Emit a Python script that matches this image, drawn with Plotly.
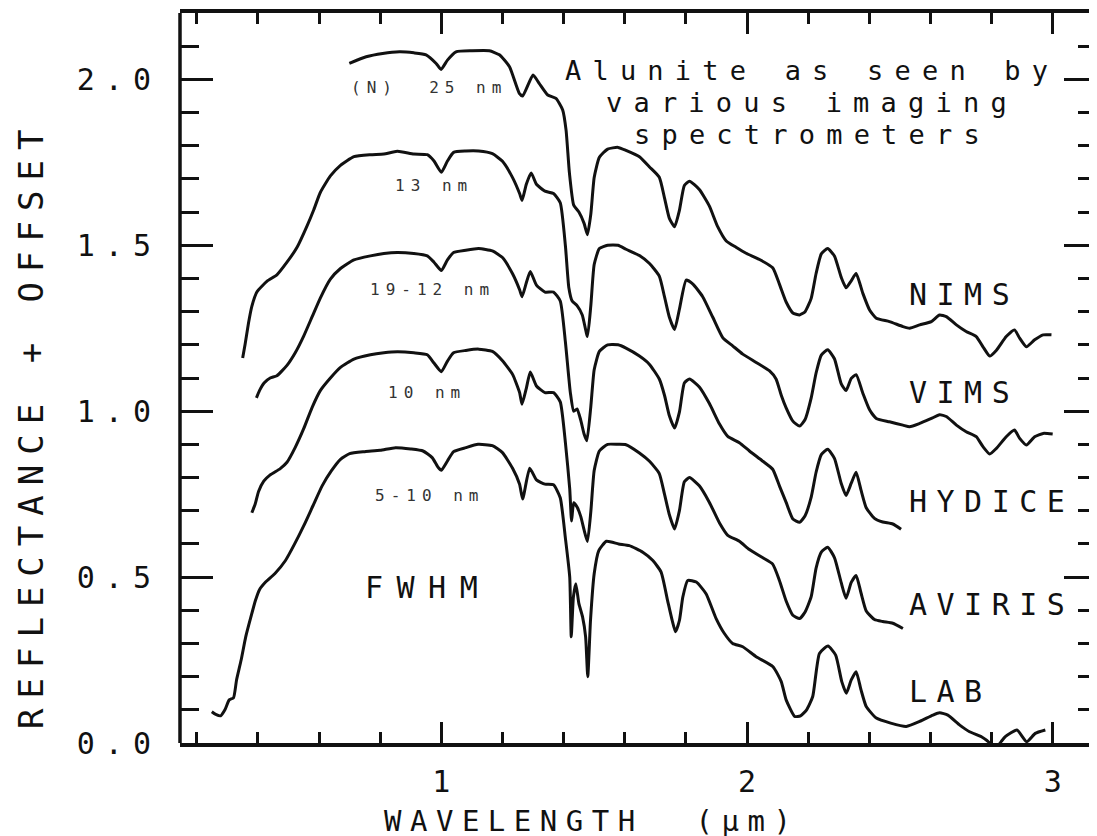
import plotly.graph_objects as go

# ---------------- data (wavelength in micrometres, reflectance + offset) -------------
NIMS_WL = [0.699, 0.754, 0.808, 0.863, 0.91, 0.95, 0.983, 0.999, 1.02, 1.048, 1.10, 1.157, 1.19,
           1.223, 1.255, 1.266, 1.30, 1.32, 1.348, 1.375, 1.397, 1.408, 1.419, 1.433, 1.45, 1.467,
           1.478, 1.489, 1.50, 1.517, 1.544, 1.578, 1.604, 1.648, 1.681, 1.713, 1.73, 1.746, 1.763,
           1.779, 1.795, 1.812, 1.844, 1.877, 1.904, 1.932, 1.964, 1.997, 2.041, 2.084, 2.106, 2.128,
           2.15, 2.172, 2.19, 2.21, 2.226, 2.243, 2.264, 2.286, 2.308, 2.324, 2.341, 2.357, 2.379,
           2.401, 2.423, 2.466, 2.51, 2.532, 2.565, 2.603, 2.63, 2.652, 2.685, 2.717, 2.75, 2.772,
           2.794, 2.816, 2.848, 2.875, 2.892, 2.914, 2.941, 2.969, 2.996]
NIMS_R = [2.048, 2.068, 2.078, 2.083, 2.08, 2.074, 2.048, 2.03, 2.058, 2.083, 2.086, 2.086, 2.074,
          2.038, 1.958, 1.95, 2.013, 1.988, 1.953, 1.943, 1.908, 1.847, 1.718, 1.621, 1.60, 1.566,
          1.532, 1.594, 1.704, 1.765, 1.79, 1.795, 1.786, 1.767, 1.736, 1.705, 1.643, 1.581, 1.556,
          1.606, 1.68, 1.693, 1.668, 1.618, 1.556, 1.513, 1.494, 1.476, 1.457, 1.432, 1.383, 1.329,
          1.296, 1.29, 1.30, 1.34, 1.415, 1.474, 1.49, 1.468, 1.404, 1.372, 1.393, 1.415, 1.355,
          1.305, 1.28, 1.27, 1.255, 1.25, 1.26, 1.27, 1.29, 1.285, 1.26, 1.24, 1.225, 1.194,
          1.166, 1.184, 1.225, 1.245, 1.22, 1.194, 1.215, 1.23, 1.23]

VIMS_WL = [0.35, 0.358, 0.369, 0.38, 0.397, 0.43, 0.462, 0.495, 0.528, 0.56, 0.583, 0.604, 0.637,
           0.67, 0.714, 0.768, 0.812, 0.856, 0.91, 0.954, 0.976, 1.0, 1.02, 1.04, 1.08, 1.122, 1.167,
           1.2, 1.233, 1.256, 1.264, 1.278, 1.294, 1.311, 1.339, 1.367, 1.389, 1.406, 1.417, 1.428,
           1.444, 1.461, 1.478, 1.489, 1.5, 1.517, 1.544, 1.578, 1.604, 1.648, 1.681, 1.713, 1.73,
           1.746, 1.763, 1.779, 1.801, 1.823, 1.855, 1.888, 1.921, 1.953, 1.986, 2.03, 2.073, 2.095,
           2.112, 2.128, 2.15, 2.172, 2.19, 2.21, 2.226, 2.243, 2.264, 2.286, 2.308, 2.324, 2.341,
           2.357, 2.379, 2.401, 2.423, 2.466, 2.51, 2.532, 2.565, 2.603, 2.63, 2.652, 2.685, 2.717,
           2.75, 2.772, 2.794, 2.816, 2.848, 2.875, 2.892, 2.914, 2.941, 2.969, 3.0]
VIMS_R = [1.16, 1.202, 1.265, 1.316, 1.36, 1.392, 1.411, 1.449, 1.494, 1.557, 1.608, 1.659, 1.709,
          1.741, 1.767, 1.773, 1.775, 1.783, 1.775, 1.773, 1.754, 1.72, 1.754, 1.78, 1.784, 1.784, 1.776,
          1.753, 1.704, 1.656, 1.635, 1.684, 1.718, 1.684, 1.663, 1.656, 1.628, 1.497, 1.373, 1.332,
          1.318, 1.29, 1.225, 1.318, 1.442, 1.49, 1.5, 1.5, 1.488, 1.469, 1.445, 1.407, 1.345,
          1.283, 1.246, 1.308, 1.395, 1.383, 1.345, 1.283, 1.221, 1.197, 1.172, 1.147, 1.122, 1.097,
          1.048, 1.01, 0.97, 0.955, 0.975, 1.04, 1.115, 1.169, 1.185, 1.158, 1.083, 1.062, 1.099,
          1.11, 1.054, 1.004, 0.978, 0.968, 0.958, 0.953, 0.963, 0.978, 0.989, 0.984, 0.958, 0.938,
          0.923, 0.893, 0.871, 0.888, 0.923, 0.943, 0.918, 0.898, 0.923, 0.933, 0.931]

HYDICE_WL = [0.395, 0.405, 0.42, 0.44, 0.462, 0.495, 0.522, 0.55, 0.577, 0.604, 0.637, 0.67, 0.714,
             0.768, 0.812, 0.856, 0.91, 0.954, 0.976, 1.0, 1.02, 1.04, 1.08, 1.122, 1.167, 1.2, 1.233,
             1.256, 1.264, 1.278, 1.291, 1.311, 1.339, 1.367, 1.389, 1.406, 1.422, 1.433, 1.444, 1.456,
             1.467, 1.476, 1.489, 1.5, 1.517, 1.544, 1.578, 1.604, 1.648, 1.681, 1.713, 1.73, 1.746,
             1.763, 1.779, 1.795, 1.812, 1.844, 1.877, 1.91, 1.937, 1.975, 2.008, 2.052, 2.084, 2.106,
             2.128, 2.15, 2.172, 2.19, 2.21, 2.226, 2.243, 2.264, 2.286, 2.308, 2.324, 2.341, 2.357,
             2.373, 2.39, 2.417, 2.444, 2.477, 2.504]
HYDICE_R = [1.04, 1.062, 1.085, 1.10, 1.107, 1.138, 1.176, 1.227, 1.284, 1.341, 1.398, 1.43, 1.456,
            1.468, 1.475, 1.478, 1.475, 1.468, 1.449, 1.424, 1.456, 1.478, 1.485, 1.49, 1.483, 1.463, 1.414,
            1.366, 1.345, 1.387, 1.421, 1.38, 1.359, 1.359, 1.332, 1.207, 1.056, 1.0, 1.007, 0.973,
            0.931, 0.911, 1.014, 1.125, 1.18, 1.2, 1.2, 1.19, 1.166, 1.141, 1.097, 1.048, 0.986,
            0.949, 0.998, 1.085, 1.097, 1.073, 1.023, 0.961, 0.924, 0.905, 0.88, 0.849, 0.825, 0.775,
            0.725, 0.675, 0.665, 0.685, 0.741, 0.816, 0.869, 0.885, 0.858, 0.783, 0.746, 0.783, 0.816,
            0.762, 0.709, 0.677, 0.666, 0.66, 0.644]

AVIRIS_WL = [0.38, 0.391, 0.402, 0.419, 0.44, 0.473, 0.495, 0.522, 0.55, 0.577, 0.604, 0.637, 0.67,
             0.714, 0.768, 0.812, 0.856, 0.91, 0.954, 0.976, 1.0, 1.02, 1.04, 1.08, 1.122, 1.167, 1.2,
             1.233, 1.256, 1.264, 1.278, 1.291, 1.311, 1.339, 1.367, 1.389, 1.406, 1.42, 1.426, 1.433,
             1.444, 1.456, 1.467, 1.478, 1.489, 1.5, 1.517, 1.544, 1.578, 1.604, 1.648, 1.681, 1.713,
             1.73, 1.746, 1.763, 1.779, 1.795, 1.812, 1.844, 1.877, 1.91, 1.937, 1.975, 2.008, 2.052,
             2.084, 2.106, 2.128, 2.15, 2.172, 2.19, 2.21, 2.226, 2.243, 2.264, 2.286, 2.308, 2.324,
             2.341, 2.357, 2.373, 2.39, 2.417, 2.444, 2.477, 2.51]
AVIRIS_R = [0.694, 0.72, 0.758, 0.789, 0.808, 0.827, 0.846, 0.891, 0.948, 1.011, 1.062, 1.10, 1.132,
            1.157, 1.17, 1.176, 1.179, 1.176, 1.17, 1.145, 1.119, 1.151, 1.176, 1.183, 1.187, 1.18, 1.152,
            1.111, 1.056, 1.021, 1.069, 1.118, 1.076, 1.056, 1.056, 1.028, 0.904, 0.766, 0.669, 0.724,
            0.711, 0.683, 0.642, 0.607, 0.697, 0.821, 0.88, 0.90, 0.90, 0.899, 0.874, 0.849, 0.812,
            0.75, 0.688, 0.645, 0.701, 0.787, 0.80, 0.775, 0.725, 0.663, 0.626, 0.608, 0.583, 0.558,
            0.539, 0.49, 0.428, 0.385, 0.375, 0.395, 0.441, 0.527, 0.575, 0.59, 0.559, 0.484, 0.436,
            0.484, 0.505, 0.452, 0.398, 0.372, 0.366, 0.361, 0.345]

LAB_WL = [0.249, 0.262, 0.278, 0.292, 0.306, 0.32, 0.33, 0.345, 0.36, 0.377, 0.392, 0.405, 0.425,
          0.455, 0.49, 0.52, 0.55, 0.58, 0.61, 0.64, 0.67, 0.70, 0.75, 0.80, 0.85, 0.90, 0.94, 0.97,
          0.99, 1.0, 1.02, 1.04, 1.08, 1.12, 1.167, 1.2, 1.233, 1.256, 1.266, 1.289, 1.311, 1.339,
          1.367, 1.389, 1.406, 1.42, 1.425, 1.432, 1.44, 1.45, 1.462, 1.472, 1.479, 1.488, 1.50,
          1.515, 1.54, 1.58, 1.615, 1.659, 1.692, 1.719, 1.74, 1.755, 1.766, 1.779, 1.79, 1.806,
          1.834, 1.866, 1.899, 1.926, 1.953, 1.986, 2.03, 2.085, 2.112, 2.128, 2.156, 2.175, 2.195,
          2.215, 2.237, 2.265, 2.29, 2.31, 2.325, 2.341, 2.357, 2.373, 2.39, 2.423, 2.47, 2.521,
          2.565, 2.608, 2.63, 2.657, 2.696, 2.728, 2.767, 2.794, 2.81, 2.832, 2.845, 2.883, 2.915,
          2.943, 2.976]
LAB_R = [0.094, 0.086, 0.082, 0.10, 0.13, 0.136, 0.19, 0.25, 0.32, 0.38, 0.43, 0.462, 0.485,
         0.51, 0.55, 0.60, 0.655, 0.715, 0.775, 0.82, 0.855, 0.872, 0.878, 0.882, 0.89, 0.886, 0.88, 0.86,
         0.83, 0.822, 0.85, 0.878, 0.89, 0.90, 0.896, 0.875, 0.828, 0.78, 0.735, 0.828, 0.793, 0.78,
         0.778, 0.739, 0.616, 0.50, 0.32, 0.44, 0.48, 0.42, 0.38, 0.32, 0.20, 0.37, 0.51,
         0.58, 0.608, 0.60, 0.595, 0.575, 0.55, 0.515, 0.43, 0.37, 0.335, 0.37, 0.44, 0.49,
         0.485, 0.45, 0.375, 0.33, 0.30, 0.29, 0.26, 0.23, 0.185, 0.13, 0.08, 0.082, 0.10,
         0.14, 0.27, 0.292, 0.265, 0.185, 0.15, 0.19, 0.215, 0.16, 0.11, 0.075, 0.06, 0.05,
         0.065, 0.084, 0.091, 0.084, 0.054, 0.034, 0.019, 0.0, -0.02, 0.005, 0.019, 0.039, 0.004,
         0.029, 0.039]

SERIES_NAMES = ["NIMS", "VIMS", "HYDICE", "AVIRIS", "LAB"]
FWHM_TEXT = ["(N)  25 nm", "13 nm", "19-12 nm", "10 nm", "5-10 nm"]
X_TICKS = [1, 2, 3]
X_TICK_TEXT = ["1", "2", "3"]
Y_TICKS = [0.0, 0.5, 1.0, 1.5, 2.0]
Y_TICK_TEXT = ["0.0", "0.5", "1.0", "1.5", "2.0"]
TITLE_LINES = ["Alunite as seen by", "various imaging", "spectrometers"]
X_TITLE = "WAVELENGTH  (µm)"
Y_TITLE = "REFLECTANCE + OFFSET"

# ---------------- styling ----------------
FONT = "DejaVu Sans Mono"
INK = "#111111"


def spaced(text, px):
    return '<span style="letter-spacing:%spx">%s</span>' % (px, text)


series = [(NIMS_WL, NIMS_R), (VIMS_WL, VIMS_R), (HYDICE_WL, HYDICE_R),
          (AVIRIS_WL, AVIRIS_R), (LAB_WL, LAB_R)]

fig = go.Figure()
for name, (wl, r) in zip(SERIES_NAMES, series):
    fig.add_trace(go.Scatter(x=wl, y=r, mode="lines", name=name,
                             line=dict(color=INK, width=3, shape="spline", smoothing=0.5),
                             hoverinfo="skip"))

annotations = []
# curve name labels (left-anchored, right of curves)
name_pos = [(2.525, 1.353), (2.525, 1.055), (2.525, 0.729), (2.525, 0.416), (2.525, 0.154)]
for name, (x, y) in zip(SERIES_NAMES, name_pos):
    annotations.append(dict(x=x, y=y, xref="x", yref="y", text=spaced(name, 9.5),
                            showarrow=False, xanchor="left", yanchor="middle",
                            font=dict(family=FONT, size=30, color=INK)))

# FWHM small labels
fw_pos = [(0.961, 1.977), (0.977, 1.679), (0.971, 1.368), (0.954, 1.055), (0.961, 0.747)]
for t, (x, y) in zip(FWHM_TEXT, fw_pos):
    annotations.append(dict(x=x, y=y, xref="x", yref="y", text=spaced(t, 6),
                            showarrow=False, xanchor="center", yanchor="middle",
                            font=dict(family=FONT, size=16, color="#333333")))

annotations.append(dict(x=0.955, y=0.468, xref="x", yref="y", text=spaced("FWHM", 13.5),
                        showarrow=False, xanchor="center", yanchor="middle",
                        font=dict(family=FONT, size=30, color=INK)))

# title block (three centred lines)
title_y = [2.027, 1.931, 1.835]
for t, y in zip(TITLE_LINES, title_y):
    annotations.append(dict(x=2.214, y=y, xref="x", yref="y", text=spaced(t, 11.2),
                            showarrow=False, xanchor="center", yanchor="middle",
                            font=dict(family=FONT, size=27, color=INK)))

# axis titles
annotations.append(dict(x=0.449, y=-0.107, xref="paper", yref="paper", text=spaced(X_TITLE, 8.5),
                        showarrow=False, xanchor="center", yanchor="middle",
                        font=dict(family=FONT, size=29, color=INK)))
annotations.append(dict(x=-0.1625, y=0.437, xref="paper", yref="paper", text=spaced(Y_TITLE, 10),
                        showarrow=False, xanchor="center", yanchor="middle", textangle=-90,
                        font=dict(family=FONT, size=34, color=INK)))

# The page body adds an 8 px offset; margins compensate so the plot frame lands
# where the reference has it.
fig.update_layout(
    width=1097, height=836,
    margin=dict(l=172, r=8, t=5, b=101, autoexpand=False),
    paper_bgcolor="white", plot_bgcolor="white",
    showlegend=False,
    annotations=annotations,
    shapes=[dict(type="line", xref="paper", yref="paper", x0=0, x1=0, y0=0, y1=1,
                 line=dict(color=INK, width=3.5))],
)

fig.update_xaxes(
    range=[0.145, 3.145], showgrid=False, zeroline=False, automargin=False,
    showline=True, linecolor=INK, linewidth=3.5, mirror="ticks",
    tickmode="array", tickvals=X_TICKS, ticktext=X_TICK_TEXT,
    ticks="inside", ticklen=21, tickwidth=3, tickcolor=INK,
    ticklabelstandoff=9,
    tickfont=dict(family=FONT, size=30, color=INK),
    minor=dict(tickmode="linear", tick0=0, dtick=0.2, ticks="inside", ticklen=11,
               tickwidth=3, tickcolor=INK, showgrid=False),
)
fig.update_yaxes(
    range=[0, 2.2], showgrid=False, zeroline=False, automargin=False,
    showline=False, mirror="ticks",
    tickmode="array", tickvals=Y_TICKS, ticktext=[spaced(t, 10) for t in Y_TICK_TEXT],
    ticks="inside", ticklen=33, tickwidth=3, tickcolor=INK,
    ticklabelstandoff=18,
    tickfont=dict(family=FONT, size=30, color=INK),
    minor=dict(tickmode="linear", tick0=0, dtick=0.1, ticks="inside", ticklen=19,
               tickwidth=3, tickcolor=INK, showgrid=False),
)

fig.write_html("out.html")
